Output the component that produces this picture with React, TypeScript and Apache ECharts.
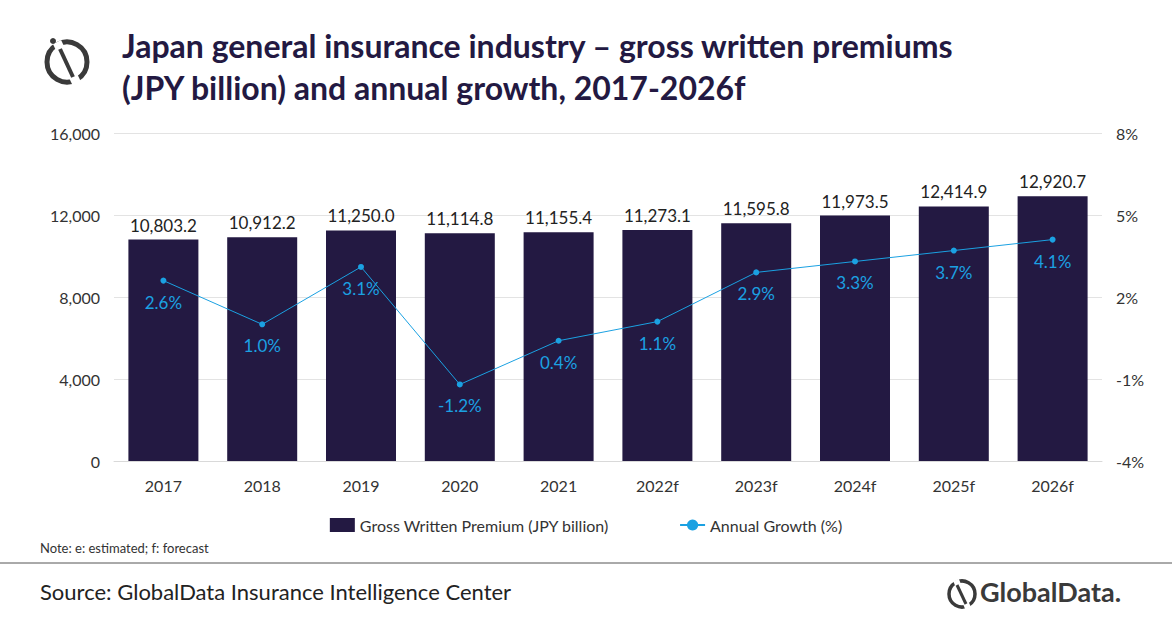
import React, { useEffect, useRef } from "react";
import * as echarts from "echarts";

const categories = ["2017", "2018", "2019", "2020", "2021", "2022f", "2023f", "2024f", "2025f", "2026f"];
const premiums = [10803.2, 10912.2, 11250.0, 11114.8, 11155.4, 11273.1, 11595.8, 11973.5, 12414.9, 12920.7];
const growth = [2.6, 1.0, 3.1, -1.2, 0.4, 1.1, 2.9, 3.3, 3.7, 4.1];
const leftTicks = [0, 4000, 8000, 12000, 16000];
const rightTicks = [-4, -1, 2, 5, 8];

const FONT = "Lato, 'Open Sans', sans-serif";
const DARK = "#231942";
const BLUE = "#1ba1e2";

export default function App() {
  const ref = useRef<HTMLDivElement>(null);
  useEffect(() => {
    document.body.style.margin = "0";
    const chart = echarts.init(ref.current!, null, { renderer: "svg" });
    chart.setOption({
      animation: false,
      textStyle: { fontFamily: FONT },
      grid: { left: 114, right: 70, top: 133, bottom: 167 },
      legend: {
        bottom: 90,
        left: "center",
        itemGap: 70,
        textStyle: { fontSize: 16, color: "#333", fontFamily: FONT },
        data: [
          { name: "Gross Written Premium (JPY billion)", icon: "rect" },
          { name: "Annual Growth (%)" },
        ],
      },
      xAxis: {
        type: "category",
        data: categories,
        axisTick: { show: false },
        axisLine: { lineStyle: { color: "#d9d9d9" } },
        axisLabel: { fontSize: 16, color: "#333", margin: 16 },
      },
      yAxis: [
        {
          type: "value", min: 0, max: 16000, interval: 4000,
          axisLabel: { fontSize: 16, color: "#333", margin: 14, formatter: (v: number) => (leftTicks.includes(v) ? v.toLocaleString("en-US") : "") },
          splitLine: { lineStyle: { color: "#e3e3e3" } },
        },
        {
          type: "value", min: -4, max: 8, interval: 3,
          axisLabel: { fontSize: 16, color: "#333", margin: 14, formatter: (v: number) => (rightTicks.includes(v) ? v + "%" : "") },
          splitLine: { show: false },
        },
      ],
      series: [
        {
          name: "Gross Written Premium (JPY billion)",
          type: "bar",
          data: premiums,
          barWidth: 70,
          itemStyle: { color: DARK },
          label: {
            show: true, position: "top", fontSize: 17, color: "#222", distance: 6,
            formatter: (p: any) => p.value.toLocaleString("en-US", { minimumFractionDigits: 1, maximumFractionDigits: 1 }),
          },
        },
        {
          name: "Annual Growth (%)",
          type: "line",
          yAxisIndex: 1,
          data: growth,
          symbol: "circle",
          symbolSize: 6,
          lineStyle: { color: BLUE, width: 1 },
          itemStyle: { color: BLUE },
          label: { show: true, position: "bottom", distance: 10, fontSize: 17, color: BLUE, formatter: (p: any) => p.value.toFixed(1) + "%" },
        },
      ],
      graphic: [
        { type: "circle", shape: { cx: 67, cy: 62, r: 20 }, style: { fill: "none", stroke: "#3a3a3a", lineWidth: 5 } },
        { type: "line", shape: { x1: 57, y1: 42, x2: 77, y2: 84 }, style: { stroke: "#fff", lineWidth: 9 } },
        { type: "line", shape: { x1: 60, y1: 49, x2: 73, y2: 77 }, style: { stroke: "#3a3a3a", lineWidth: 4 } },
        { type: "circle", shape: { cx: 53, cy: 41, r: 3 }, style: { fill: "#3a3a3a" } },
        { type: "text", left: 122, top: 24, style: { text: "Japan general insurance industry – gross written premiums\n(JPY billion) and annual growth, 2017-2026f", fill: DARK, font: `bold 32px ${FONT}`, lineHeight: 42 } },
        { type: "text", left: 40, top: 541, style: { text: "Note: e: estimated; f: forecast", fill: "#333", font: `13px ${FONT}` } },
        { type: "line", shape: { x1: 0, y1: 563, x2: 1172, y2: 563 }, style: { stroke: "#555", lineWidth: 1 } },
        { type: "text", left: 40, top: 580, style: { text: "Source: GlobalData Insurance Intelligence Center", fill: "#222", font: `22px ${FONT}` } },
        { type: "circle", shape: { cx: 962, cy: 594, r: 13 }, style: { fill: "none", stroke: "#3a3a3a", lineWidth: 3.5 } },
        { type: "line", shape: { x1: 956, y1: 580, x2: 968, y2: 608 }, style: { stroke: "#fff", lineWidth: 6 } },
        { type: "line", shape: { x1: 957, y1: 585, x2: 966, y2: 604 }, style: { stroke: "#3a3a3a", lineWidth: 3 } },
        { type: "text", left: 980, top: 578, style: { text: "GlobalData.", fill: "#3a3a3a", font: `bold 27px ${FONT}` } },
      ],
    });
    return () => chart.dispose();
  }, []);
  return <div ref={ref} style={{ width: 1172, height: 628 }} />;
}
